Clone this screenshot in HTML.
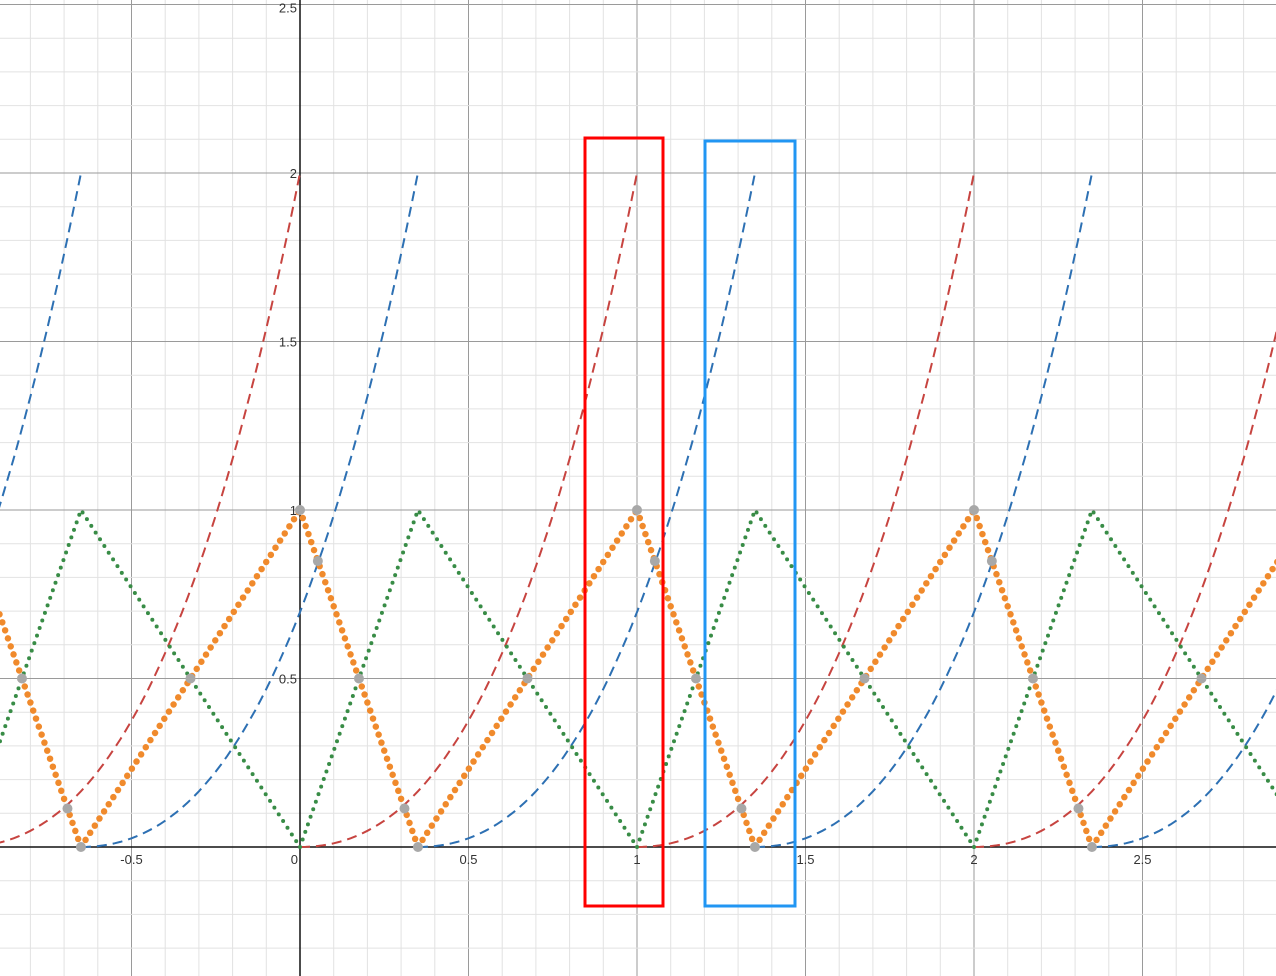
<!DOCTYPE html>
<html><head><meta charset="utf-8"><style>
html,body{margin:0;padding:0;background:#fff;overflow:hidden}
svg{display:block}
text{font-family:"Liberation Sans",Arial,sans-serif;font-size:13px;fill:#333}
</style></head><body>
<svg id="chart" width="1276" height="976" viewBox="0 0 1276 976" xmlns="http://www.w3.org/2000/svg">
<g id="grid"></g>
<g id="axes"></g>
<g id="curves"></g>
<g id="pts"></g>
<rect x="585" y="138" width="78" height="768" fill="none" stroke="#f00" stroke-width="3"/>
<rect x="705" y="141" width="90" height="765" fill="none" stroke="#2196f3" stroke-width="3"/>
</svg>
<script>
const periods = [-2,-1,0,1,2,3];
const shift = 0.35;
const pointOffsets = [0, 0.053, 0.175, 0.31, 0.35, 0.675];
const xTicks = [-0.5,0,0.5,1,1.5,2,2.5];
const yTicks = [0.5,1,1.5,2,2.5];
const X0=300, Y0=847, U=337;
const sx = x => X0 + x*U;
const sy = y => Y0 - y*U;
const NS="http://www.w3.org/2000/svg";
function mk(tag, attrs, parent){const e=document.createElementNS(NS,tag);for(const k in attrs)e.setAttribute(k,attrs[k]);parent.appendChild(e);return e;}
const grid=document.getElementById('grid'), axes=document.getElementById('axes'), curves=document.getElementById('curves'), pts=document.getElementById('pts');
for(let i=-10;i<=30;i++){const x=i/10, px=sx(x);const maj=i%5===0;
 const l=mk('line',{x1:px,x2:px,y1:0,y2:976,stroke:maj?'#9a9a9a':'#e2e2e2','stroke-width':1},grid);
 
 }
for(let i=-4;i<=26;i++){const y=i/10, py=sy(y);const maj=i%5===0;
 const l=mk('line',{x1:0,x2:1276,y1:py,y2:py,stroke:maj?'#9a9a9a':'#e2e2e2','stroke-width':1},grid);
 
 }
let a=mk('line',{x1:X0,x2:X0,y1:0,y2:976,stroke:'#111','stroke-width':1.5},axes);


a=mk('line',{x1:0,x2:1276,y1:Y0,y2:Y0,stroke:'#111','stroke-width':1.5},axes);


xTicks.forEach(v=>{const t=mk('text',{x:sx(v)-(v===0?2:0),y:Y0+17,'text-anchor':v===0?'end':'middle'},axes);t.textContent=String(v);
 
 });
yTicks.forEach(v=>{const t=mk('text',{x:X0-3,y:sy(v)+(v===2.5?8:5),'text-anchor':'end'},axes);t.textContent=String(v);
 
 });
const f=t=>t*t+t*t*t;
function curvePath(x0){let d='';for(let k=0;k<=60;k++){const t=k/60;d+=(k?'L':'M')+sx(x0+t).toFixed(1)+','+sy(f(t)).toFixed(1);}return d;}
function orange(x){const t=((x%1)+1)%1;return t<shift? 1-t/shift : (t-shift)/(1-shift);}
periods.forEach(n=>{
 let p=mk('path',{d:curvePath(n),fill:'none',stroke:'#c74440','stroke-width':2,'stroke-dasharray':'10 6'},curves);
 
 
 p=mk('path',{d:curvePath(n+shift),fill:'none',stroke:'#2d70b3','stroke-width':2,'stroke-dasharray':'10 6'},curves);
 
 
});
let dO='',dG='';
periods.forEach(n=>{
 const xs=[n,n+shift,n+1];
 dG+='M'+sx(xs[0])+','+sy(0)+'L'+sx(xs[1])+','+sy(1)+'L'+sx(xs[2])+','+sy(0);
 dO+='M'+sx(xs[0])+','+sy(1)+'L'+sx(xs[1])+','+sy(0)+'L'+sx(xs[2])+','+sy(1);
});
let g=mk('path',{d:dG,fill:'none',stroke:'#388c46','stroke-width':4,'stroke-linecap':'round','stroke-dasharray':'0 8'},curves);


g=mk('path',{d:dO,fill:'none',stroke:'#f08a2c','stroke-width':6.5,'stroke-linecap':'round','stroke-dasharray':'0 8.5'},curves);


periods.forEach(n=>pointOffsets.forEach(o=>{const x=n+o;
 const c=mk('circle',{cx:sx(x),cy:sy(orange(x)),r:5,fill:'#a8a8a8'},pts);
 
 }));
</script>
</body></html>
